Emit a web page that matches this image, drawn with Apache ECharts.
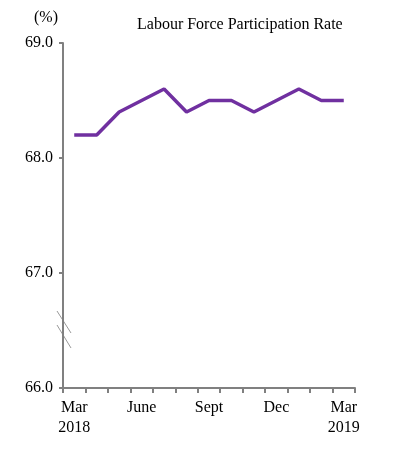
<!DOCTYPE html>
<html><head><meta charset="utf-8">
<script src="https://cdn.jsdelivr.net/npm/echarts@6/dist/echarts.min.js"></script>
<style>html,body{margin:0;padding:0;background:#fff}#c{width:394px;height:463px}</style>
</head><body><div id="c"></div>
<script>
const categories = ['Mar\n2018','Apr','May','June','Jul','Aug','Sept','Oct','Nov','Dec','Jan','Feb','Mar\n2019'];
const shownLabels = ['Mar\n2018','','','June','','','Sept','','','Dec','','','Mar\n2019'];
const rate = [68.2,68.2,68.4,68.5,68.6,68.4,68.5,68.5,68.4,68.5,68.6,68.5,68.5];
const yTicks = [66,67,68,69];

const font = '"Liberation Serif","Times New Roman",serif';
const chart = echarts.init(document.getElementById('c'), null, {renderer:'canvas'});
chart.setOption({
  animation:false,
  title:[
    {text:'(%)', left:29, top:5, textStyle:{fontFamily:font,fontSize:16,fontWeight:'normal',color:'#000'}},
    {text:'Labour Force Participation Rate', left:132, top:12, textStyle:{fontFamily:font,fontSize:16,fontWeight:'normal',color:'#000'}}
  ],
  grid:{left:63,right:39,top:43,bottom:75,containLabel:false},
  xAxis:{type:'category',data:categories,boundaryGap:true,
    axisLine:{lineStyle:{color:'#808080',width:2}},
    axisTick:{show:true,interval:0,length:5,lineStyle:{color:'#808080',width:2}},
    axisLabel:{interval:0,margin:10,fontFamily:font,fontSize:16,color:'#000',lineHeight:20,
      formatter:(v,i)=>shownLabels[i]}
  },
  yAxis:{type:'value',min:yTicks[0],max:yTicks[yTicks.length-1],interval:1,
    axisLine:{show:true,lineStyle:{color:'#808080',width:2}},
    axisTick:{show:true,length:4,lineStyle:{color:'#808080',width:2}},
    splitLine:{show:false},
    axisLabel:{margin:10,fontFamily:font,fontSize:16,color:'#000',formatter:v=>v.toFixed(1)}
  },
  series:[{type:'line',data:rate,symbol:'none',lineStyle:{color:'#7030A0',width:3.5},z:3}]
});
// axis break marks
const ax = chart.convertToPixel({yAxisIndex:0},66.6);
const x0 = 63;
chart.setOption({graphic:[
  {type:'line',shape:{x1:x0-6,y1:ax-8,x2:x0+8,y2:ax+14},style:{stroke:'#999',lineWidth:1}},
  {type:'line',shape:{x1:x0-6,y1:ax+6,x2:x0+8,y2:ax+29},style:{stroke:'#999',lineWidth:1}}
]});
</script></body></html>
